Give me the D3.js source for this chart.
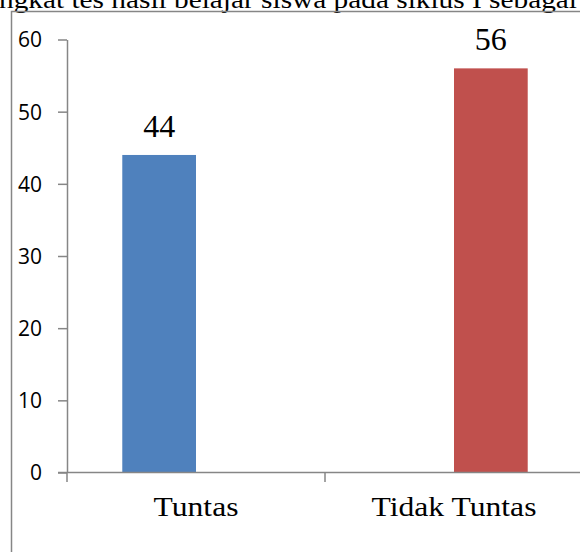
<!DOCTYPE html>
<html>
<head>
<meta charset="utf-8">
<script src="https://cdn.jsdelivr.net/npm/d3@7"></script>
<style>
  html, body { margin: 0; padding: 0; background: #fff; overflow: hidden; }
  svg { display: block; }
</style>
</head>
<body>
<script>
// ---- data ----
const titleText = "ngkat tes hasil belajar siswa pada siklus I sebagai";
const categories = ["Tuntas", "Tidak Tuntas"];
const seriesNames = ["Tuntas", "Tidak Tuntas"];
const seriesTuntas = [44, null];
const seriesTidakTuntas = [null, 56];
const yTicks = [0, 10, 20, 30, 40, 50, 60];
const seriesColors = ["#4F81BD", "#C0504D"];

const W = 580, H = 552;
const svg = d3.select("body").append("svg").attr("width", W).attr("height", H);

const axisColor = "#868686";
const serif = "'Liberation Serif', 'Times New Roman', serif";
const sans = "'Open Sans', 'DejaVu Sans', sans-serif";
const sx = 1.15; // horizontal stretch of glyphs in the original

// title (clipped at top, as in the original)
svg.append("text")
  .attr("transform", `translate(-1,8) scale(${sx},1)`)
  .attr("font-family", serif).attr("font-size", 25.5).attr("fill", "#000")
  .text(titleText);

// frame
svg.append("path")
  .attr("d", `M11.5,${H} V11.5 H${W}`)
  .attr("fill", "none").attr("stroke", axisColor).attr("stroke-width", 1.5);

// scales
const x0 = d3.scaleBand().domain(categories).range([67, 583]).paddingInner(0).paddingOuter(0);
const x1 = d3.scaleBand().domain(seriesNames).range([0, x0.bandwidth()]).paddingInner(0).paddingOuter(0.75);
const y = d3.scaleLinear().domain([0, 60]).range([472.5, 39.5]);

// bars
const series = [seriesTuntas, seriesTidakTuntas];
series.forEach((vals, si) => {
  const g = svg.append("g");
  categories.forEach((c, ci) => {
    const v = vals[ci];
    if (v == null) return;
    const bx = x0(c) + x1(seriesNames[si]);
    g.append("rect")
      .attr("x", bx).attr("y", y(v))
      .attr("width", x1.bandwidth()).attr("height", y(0) - y(v))
      .attr("fill", seriesColors[si]);
    g.append("text")
      .attr("x", bx + x1.bandwidth() / 2).attr("y", y(v) - 18)
      .attr("text-anchor", "middle")
      .attr("font-family", serif).attr("font-size", 32).attr("fill", "#000")
      .text(v);
  });
});

// y axis
const yAxis = d3.axisLeft(y).tickValues(yTicks).tickSize(9).tickSizeOuter(0).tickPadding(16);
const ya = svg.append("g").attr("transform", "translate(67,0)").call(yAxis);
ya.select(".domain").attr("stroke", axisColor).attr("stroke-width", 1.5);
ya.selectAll(".tick line").attr("stroke", axisColor).attr("stroke-width", 1.5);
ya.selectAll(".tick text")
  .attr("font-family", sans).attr("font-size", 21).attr("fill", "#000")
  .attr("dy", "0.35em");

// x axis line
svg.append("line")
  .attr("x1", 58).attr("x2", W).attr("y1", y(0)).attr("y2", y(0))
  .attr("stroke", axisColor).attr("stroke-width", 1.5);
// x ticks at band boundaries
const bounds = [x0.range()[0]].concat(categories.map(c => x0(c) + x0.bandwidth()));
svg.append("g").selectAll("line").data(bounds).join("line")
  .attr("x1", d => d).attr("x2", d => d)
  .attr("y1", y(0)).attr("y2", y(0) + 9.5)
  .attr("stroke", axisColor).attr("stroke-width", 1.5);
// category labels
svg.append("g").selectAll("text").data(categories).join("text")
  .attr("transform", d => `translate(${x0(d) + x0.bandwidth() / 2},516) scale(${sx},1)`)
  .attr("text-anchor", "middle")
  .attr("font-family", serif).attr("font-size", 27.5).attr("fill", "#000")
  .text(d => d);
</script>
</body>
</html>
